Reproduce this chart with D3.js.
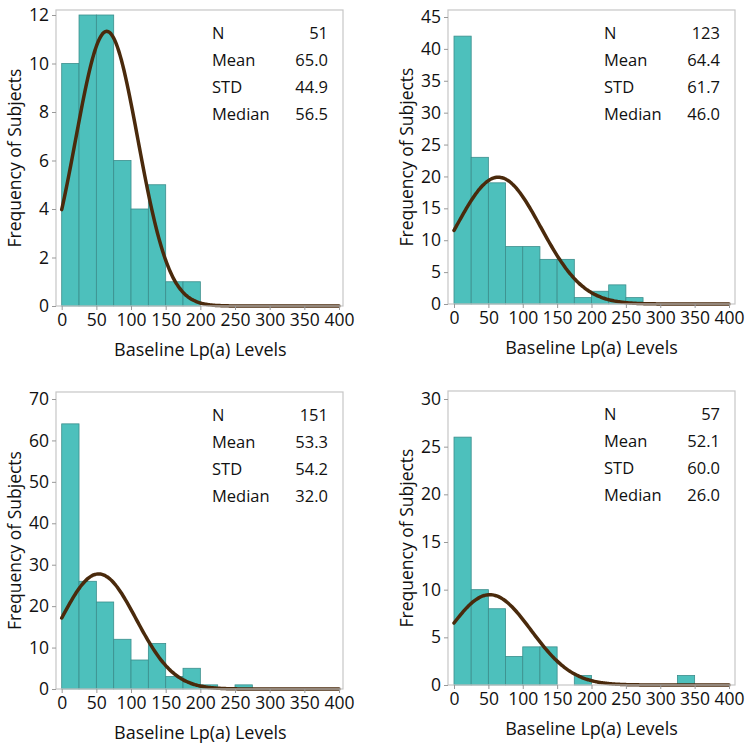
<!DOCTYPE html>
<html>
<head>
<meta charset="utf-8">
<script src="https://cdn.jsdelivr.net/npm/d3@7"></script>
<style>
  html, body { margin: 0; padding: 0; background: #fff; }
  svg { display: block; }
  text { font-family: "Open Sans", "Noto Sans", sans-serif; fill: #111; }
</style>
</head>
<body>
<svg id="chart" width="750" height="748"></svg>
<script>
// ---- data ----
const binWidth = 25;
const xTicks = [0, 50, 100, 150, 200, 250, 300, 350, 400];
const statLabels = ["N", "Mean", "STD", "Median"];

const counts1 = [10, 12, 12, 6, 4, 5, 1, 1];
const counts2 = [42, 23, 19, 9, 9, 7, 7, 1, 2, 3, 1];
const counts3 = [64, 26, 21, 12, 7, 11, 3, 5, 1, 0, 1];
const counts4 = [26, 10, 8, 3, 4, 4, 0, 1, 0, 0, 0, 0, 0, 1];

const stats1 = ["51", "65.0", "44.9", "56.5"];
const stats2 = ["123", "64.4", "61.7", "46.0"];
const stats3 = ["151", "53.3", "54.2", "32.0"];
const stats4 = ["57", "52.1", "60.0", "26.0"];

const yTicks1 = [0, 2, 4, 6, 8, 10, 12];
const yTicks2 = [0, 5, 10, 15, 20, 25, 30, 35, 40, 45];
const yTicks3 = [0, 10, 20, 30, 40, 50, 60, 70];
const yTicks4 = [0, 5, 10, 15, 20, 25, 30];

const xTitle = "Baseline Lp(a) Levels";
const yTitle = "Frequency of Subjects";

// ---- layout (positions only) ----
const panels = [
  { counts: counts1, stats: stats1, yTicks: yTicks1, fx0: 56, fx1: 343, fy0: 10, fy1: 306, yMaxPx: 15, px0: 61.7, px1: 339, ytx: 16, xty: 351 },
  { counts: counts2, stats: stats2, yTicks: yTicks2, fx0: 448, fx1: 735, fy0: 10, fy1: 304, yMaxPx: 17, px0: 454, px1: 729, ytx: 408, xty: 349 },
  { counts: counts3, stats: stats3, yTicks: yTicks3, fx0: 56, fx1: 343, fy0: 392, fy1: 689, yMaxPx: 399, px0: 61.7, px1: 339, ytx: 16, xty: 734 },
  { counts: counts4, stats: stats4, yTicks: yTicks4, fx0: 448, fx1: 735, fy0: 391, fy1: 685, yMaxPx: 399, px0: 454, px1: 729, ytx: 408, xty: 730 }
];

const svg = d3.select("#chart");
const barFill = "#4DC0BC";
const barStroke = "#3B8E8C";
const curveColor = "#4A2A0C";
const frameColor = "#C6C6C6";

panels.forEach(p => {
  const g = svg.append("g");
  const x = d3.scaleLinear().domain([0, 400]).range([p.px0, p.px1]);
  const yMax = p.yTicks[p.yTicks.length - 1];
  const y = d3.scaleLinear().domain([0, yMax]).range([p.fy1, p.yMaxPx]);

  // bars
  const bins = p.counts.map((c, i) => ({ x0: i * binWidth, x1: (i + 1) * binWidth, c }));
  g.selectAll("rect.bar").data(bins.filter(b => b.c > 0)).enter().append("rect")
    .attr("class", "bar")
    .attr("x", d => x(d.x0))
    .attr("width", d => x(d.x1) - x(d.x0))
    .attr("y", d => y(d.c))
    .attr("height", d => y(0) - y(d.c))
    .attr("fill", barFill)
    .attr("stroke", barStroke)
    .attr("stroke-width", 0.8);

  // normal fit curve from the displayed N, mean, std
  const n = +p.stats[0], mu = +p.stats[1], sd = +p.stats[2];
  const xs = d3.range(0, 400.5, 2);
  const pts = xs.map(v => [v, n * binWidth * Math.exp(-0.5 * ((v - mu) / sd) ** 2) / (sd * Math.sqrt(2 * Math.PI))]);
  g.append("path")
    .datum(pts)
    .attr("fill", "none")
    .attr("stroke", curveColor)
    .attr("stroke-width", 3.5)
    .attr("stroke-linecap", "round")
    .attr("d", d3.line().x(d => x(d[0])).y(d => y(d[1])).curve(d3.curveBasis));

  // frame
  g.append("rect")
    .attr("x", p.fx0).attr("y", p.fy0)
    .attr("width", p.fx1 - p.fx0).attr("height", p.fy1 - p.fy0)
    .attr("fill", "none").attr("stroke", frameColor).attr("stroke-width", 1.2);

  // x axis
  const xAxis = d3.axisBottom(x).tickValues(xTicks).tickSize(4).tickPadding(4);
  const xg = g.append("g").attr("transform", `translate(0,${p.fy1})`).call(xAxis);
  xg.select(".domain").remove();
  xg.selectAll(".tick line").attr("stroke", "#999");
  xg.selectAll(".tick text").style("font-size", "17.5px").style("font-family", '"Open Sans", sans-serif').attr("fill", "#111");

  // y axis
  const yAxis = d3.axisLeft(y).tickValues(p.yTicks).tickSize(4).tickPadding(3);
  const yg = g.append("g").attr("transform", `translate(${p.fx0},0)`).call(yAxis);
  yg.select(".domain").remove();
  yg.selectAll(".tick line").attr("stroke", "#999");
  yg.selectAll(".tick text").style("font-size", "17.5px").style("font-family", '"Open Sans", sans-serif').attr("fill", "#111");

  // axis titles
  g.append("text")
    .attr("x", (p.px0 + p.px1) / 2).attr("y", p.xty)
    .attr("text-anchor", "middle").attr("dominant-baseline", "middle")
    .style("font-size", "18px")
    .text(xTitle);
  g.append("text")
    .attr("transform", `translate(${p.ytx},${(p.fy0 + p.fy1) / 2}) rotate(-90)`)
    .attr("text-anchor", "middle").attr("dominant-baseline", "middle")
    .style("font-size", "17.5px")
    .text(yTitle);

  // stats inset
  statLabels.forEach((lab, i) => {
    const ty = p.fy0 + 25 + i * 27;
    g.append("text")
      .attr("x", p.fx1 - 131).attr("y", ty)
      .attr("dominant-baseline", "middle")
      .style("font-size", "16.5px")
      .text(lab);
    g.append("text")
      .attr("x", p.fx1 - 15).attr("y", ty)
      .attr("text-anchor", "end").attr("dominant-baseline", "middle")
      .style("font-size", "16.5px")
      .text(p.stats[i]);
  });
});
</script>
</body>
</html>
